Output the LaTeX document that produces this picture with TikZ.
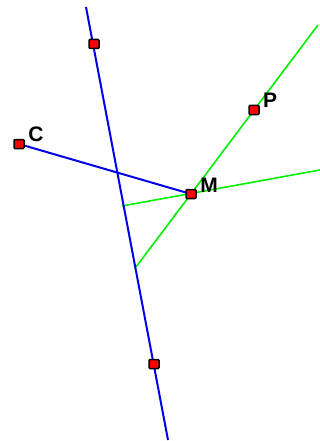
\documentclass[tikz,border=0pt]{standalone}
\usepackage{fontspec}
\setmainfont{Liberation Sans}
\begin{document}
\begin{tikzpicture}[x=1pt,y=-1pt,
  blueln/.style={draw={rgb,255:red,0;green,0;blue,230},line width=2pt},
  greenln/.style={draw={rgb,255:red,0;green,240;blue,0},line width=1.6pt},
  ptmark/.style={draw=black,fill=red,line width=1.5pt,minimum width=10pt,minimum height=9pt,inner sep=0pt,rounded corners=1pt},
  lbl/.style={font=\fontsize{21}{21}\selectfont\bfseries,inner sep=0pt}]
\useasboundingbox (0,0) rectangle (320,441);
% coordinates
\coordinate (Btop) at (86,7);
\coordinate (Bbot) at (168,440);
\coordinate (A) at (94,44);
\coordinate (B) at (154,364);
\coordinate (C) at (19,144);
\coordinate (M) at (191,194);
\coordinate (P) at (254,110);
\coordinate (G1a) at (318,25);
\coordinate (G1b) at (136,267);
\coordinate (G2a) at (122,206);
\coordinate (G2b) at (320,170);
% lines
\draw[greenln] (G1a) -- (G1b);
\draw[greenln] (G2a) -- (G2b);
\draw[blueln] (Btop) -- (Bbot);
\draw[blueln] (C) -- (M);
% markers
\node[ptmark] (mA) at (A) {};
\node[ptmark] (mB) at (B) {};
\node[ptmark] (mC) at (C) {};
\node[ptmark] (mM) at (M) {};
\node[ptmark] (mP) at (P) {};
% labels
\node[lbl] (lC) at (36,134) {C};
\node[lbl] (lM) at (209,185) {M};
\node[lbl] (lP) at (270,100) {P};
\end{tikzpicture}
\end{document}
